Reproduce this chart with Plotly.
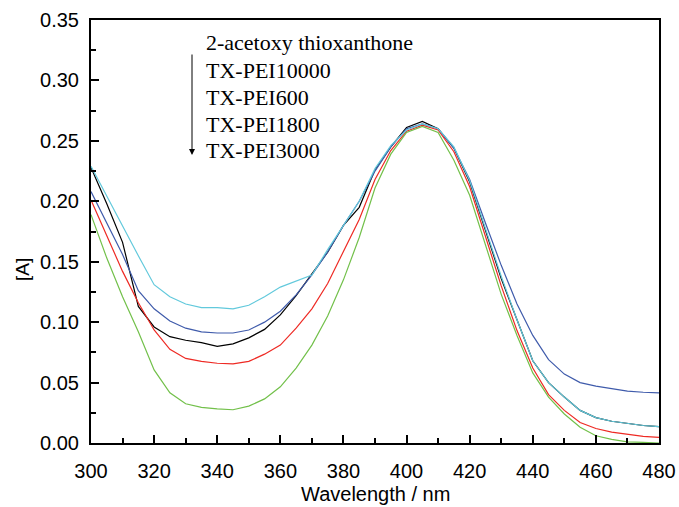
import plotly.graph_objects as go

wavelength = list(range(300, 481, 5))

acetoxy_tx = [0.228, 0.198, 0.166, 0.113, 0.096, 0.088, 0.085, 0.083, 0.080, 0.082,
              0.087, 0.094, 0.106, 0.122, 0.140, 0.158, 0.180, 0.195, 0.226, 0.245,
              0.261, 0.266, 0.260, 0.244, 0.216, 0.176, 0.136, 0.102, 0.068, 0.050,
              0.038, 0.027, 0.021, 0.018, 0.016, 0.0145, 0.0135]
tx_pei10000 = [0.201, 0.172, 0.142, 0.116, 0.0935, 0.0775, 0.070, 0.0675, 0.066, 0.0655,
               0.0675, 0.0735, 0.081, 0.095, 0.111, 0.132, 0.158, 0.185, 0.218, 0.242,
               0.258, 0.263, 0.259, 0.241, 0.212, 0.172, 0.130, 0.093, 0.062, 0.040,
               0.027, 0.017, 0.012, 0.009, 0.007, 0.0055, 0.0047]
tx_pei600 = [0.189, 0.153, 0.121, 0.092, 0.0605, 0.0415, 0.0325, 0.0295, 0.0283, 0.0275,
             0.0305, 0.0365, 0.0465, 0.062, 0.081, 0.105, 0.135, 0.170, 0.211, 0.239,
             0.257, 0.262, 0.257, 0.234, 0.205, 0.165, 0.123, 0.089, 0.058, 0.038,
             0.024, 0.013, 0.006, 0.003, 0.001, 0.0005, 0.0]
tx_pei1800 = [0.208, 0.182, 0.156, 0.126, 0.111, 0.101, 0.095, 0.092, 0.091, 0.091,
              0.0935, 0.100, 0.109, 0.1225, 0.139, 0.158, 0.180, 0.200, 0.225, 0.245,
              0.260, 0.264, 0.260, 0.244, 0.218, 0.182, 0.147, 0.115, 0.089, 0.069,
              0.057, 0.050, 0.047, 0.045, 0.043, 0.042, 0.0415]
tx_pei3000 = [0.229, 0.204, 0.179, 0.155, 0.131, 0.121, 0.115, 0.112, 0.112, 0.111,
              0.114, 0.121, 0.129, 0.134, 0.139, 0.160, 0.180, 0.200, 0.227, 0.246,
              0.259, 0.264, 0.260, 0.245, 0.217, 0.178, 0.138, 0.102, 0.068, 0.050,
              0.038, 0.027, 0.021, 0.018, 0.016, 0.0145, 0.0135]

legend_labels = ["2-acetoxy thioxanthone", "TX-PEI10000", "TX-PEI600", "TX-PEI1800", "TX-PEI3000"]

series = [
    (legend_labels[0], acetoxy_tx, "#000000"),
    (legend_labels[3], tx_pei1800, "#3f5bab"),
    (legend_labels[1], tx_pei10000, "#ee2a24"),
    (legend_labels[4], tx_pei3000, "#62c9dc"),
    (legend_labels[2], tx_pei600, "#72c04a"),
]

fig = go.Figure()
for name, vals, col in series:
    fig.add_trace(go.Scatter(x=wavelength, y=vals, mode="lines", name=name,
                             line=dict(color=col, width=1.2)))

axis_common = dict(
    showgrid=False, zeroline=False, showline=True, linecolor="black", linewidth=2,
    mirror=True, ticks="inside", ticklen=8, tickwidth=2, tickcolor="black",
    automargin=False,
    tickfont=dict(family="Liberation Sans, Arial, sans-serif", size=20, color="black"),
)

fig.update_xaxes(range=[300, 480], dtick=20, tick0=300,
                 minor=dict(dtick=10, ticks="inside", ticklen=5, tickwidth=2, tickcolor="black"),
                 ticklabelstandoff=9, **axis_common)
fig.update_yaxes(range=[0, 0.35], dtick=0.05, tick0=0, tickformat=".2f",
                 minor=dict(dtick=0.025, ticks="inside", ticklen=5, tickwidth=2, tickcolor="black"),
                 ticklabelstandoff=6, **axis_common)

PX_L, PX_R, PX_T, PX_B = 91, 659, 20, 443
W = PX_R - PX_L
H = PX_B - PX_T

def px(xp):
    return (xp - PX_L) / W

def py(yp):
    return (PX_B - yp) / H

legend_y_px = [43, 70.5, 97, 124, 150.5]
for lab, yp in zip(legend_labels, legend_y_px):
    fig.add_annotation(x=px(204), y=py(yp), xref="paper", yref="paper", text=lab,
                       showarrow=False, xanchor="left", yanchor="middle",
                       font=dict(family="Liberation Serif, Times New Roman, serif", size=22, color="black"))
# arrow
fig.add_annotation(x=px(192), y=py(155), xref="paper", yref="paper", text="",
                   showarrow=True, arrowhead=2, arrowsize=1.2, arrowwidth=1,
                   arrowcolor="black", ax=0, ay=-102)
# axis titles
fig.add_annotation(x=px(375), y=py(494.5), xref="paper", yref="paper", text="Wavelength / nm",
                   showarrow=False, xanchor="center", yanchor="middle",
                   font=dict(family="Liberation Sans, Arial, sans-serif", size=20, color="black"))
fig.add_annotation(x=px(22), y=py(270), xref="paper", yref="paper",
                   text="[A]", showarrow=False, textangle=-90, xanchor="center", yanchor="middle",
                   font=dict(family="Liberation Sans, Arial, sans-serif", size=19, color="black"))

fig.update_layout(
    width=679, height=507,
    margin=dict(l=PX_L, r=679 - PX_R, t=PX_T, b=507 - PX_B),
    plot_bgcolor="white", paper_bgcolor="white",
    showlegend=False,
)

fig.write_html("out.html", config={"displayModeBar": False},
               post_script="document.body.style.margin='0px';document.body.style.overflow='hidden';")
